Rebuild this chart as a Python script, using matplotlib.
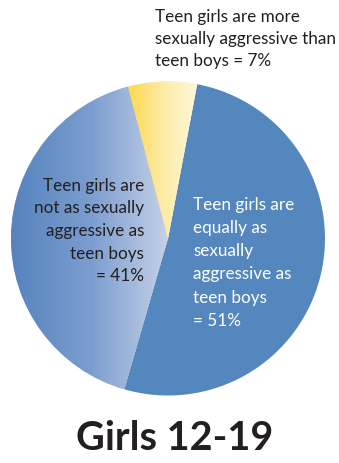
import numpy as np
import matplotlib
matplotlib.use("Agg")
import matplotlib.pyplot as plt
from matplotlib.colors import LinearSegmentedColormap

# Data
categories = ["equally", "not as", "more"]
values = [51, 41, 7]
labels = [
    "Teen girls are\nequally as\nsexually\naggressive as\nteen boys\n= 51%",
    "Teen girls are\nnot as sexually\naggressive as\nteen boys\n= 41%",
    "Teen girls are more\nsexually aggressive than\nteen boys = 7%",
]
title = "Girls 12-19"

W, H = 339, 463
fig = plt.figure(figsize=(W / 100, H / 100), dpi=100)
ax = fig.add_axes([0, 0, 1, 1])

cx, cy, r = 168, H - 238.5, 157
wedges, _ = ax.pie(values, center=(cx, cy), radius=r, startangle=79.3,
                   counterclock=False, colors=["#5387BD", "#9BB3D9", "#FCE89A"],
                   wedgeprops=dict(linewidth=0))
ax.set_xlim(0, W)
ax.set_ylim(0, H)
ax.set_aspect("equal")
ax.axis("off")

# gradients
grad = np.linspace(0, 1, 256).reshape(1, -1)
cm_gray = LinearSegmentedColormap.from_list("g", ["#5683BE", "#7C9ECF", "#C9D4E9"])
im = ax.imshow(grad, cmap=cm_gray, extent=(cx - r, cx + 5, cy - r, cy + r),
               aspect="auto", zorder=2, interpolation="bicubic")
im.set_clip_path(wedges[1])
cm_y = LinearSegmentedColormap.from_list("y", ["#FCD64A", "#FDEBA3", "#FEF8DE"])
im2 = ax.imshow(grad, cmap=cm_y, extent=(cx - 42, cx + 30, cy, cy + r),
                aspect="auto", zorder=2, interpolation="bicubic")
im2.set_clip_path(wedges[2])

font = ["Lato", "DejaVu Sans"]
tc = "#231F20"
fs = 12.3
ax.text(193, H - 197, labels[0], color="white", fontsize=fs, family=font,
        ha="left", va="top", linespacing=1.55, zorder=5)
ax.text(144, H - 178, labels[1], color=tc, fontsize=fs, family=font,
        ha="right", va="top", multialignment="right", linespacing=1.5, zorder=5)
ax.text(155, H - 9, labels[2], color=tc, fontsize=fs, family=font,
        ha="left", va="top", linespacing=1.45, zorder=5)
ax.text(175, H - 438, title, color=tc, fontsize=28.5, family=font,
        fontweight="bold", ha="center", va="center", zorder=5)

fig.savefig("out.png", dpi=100)
